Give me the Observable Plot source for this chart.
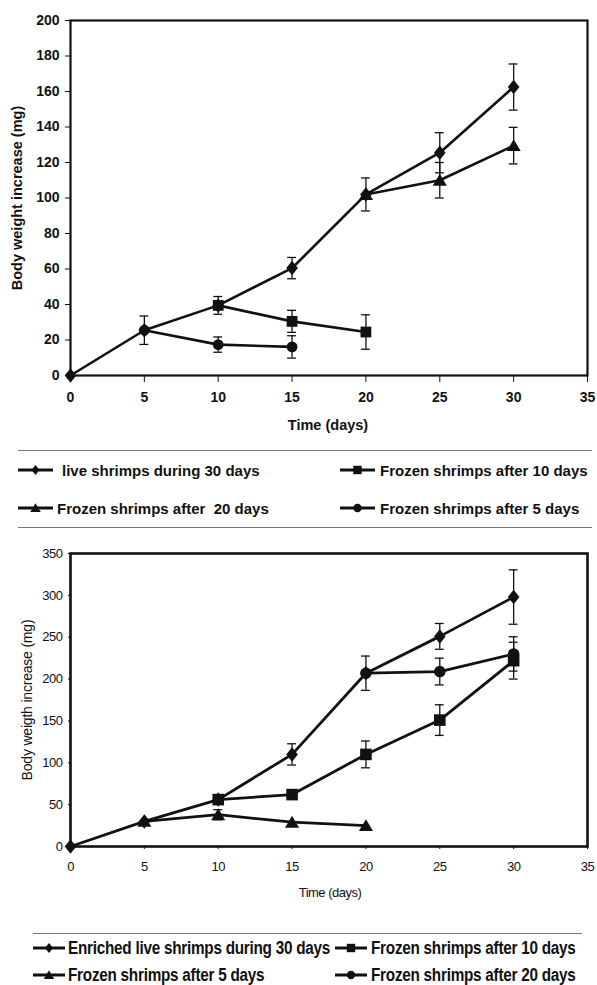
<!DOCTYPE html>
<html>
<head>
<meta charset="utf-8">
<script src="https://cdn.jsdelivr.net/npm/d3@7"></script>
<script src="https://cdn.jsdelivr.net/npm/@observablehq/plot@0.6"></script>
<style>
  html, body { margin: 0; padding: 0; background: #fff; }
  #page { position: relative; width: 597px; height: 985px; overflow: hidden; background: #fff; color: #111; }
  .abs { position: absolute; white-space: pre; }
  .top-font { font-family: "Liberation Sans", Arial, sans-serif; font-weight: bold; }
  .bot-font { font-family: "Liberation Sans", Arial, sans-serif; font-weight: bold; transform-origin: left center; }
  .rule { position: absolute; height: 0; border-top: 1px solid #777; }
  .ylab { transform-origin: center center; transform: translate(-50%, -50%) rotate(-90deg); }
</style>
</head>
<body>
<div id="page"></div>
<script>
// ---------------- Data: top chart ----------------
const topTicksX = [0, 5, 10, 15, 20, 25, 30, 35];
const topTicksY = [0, 20, 40, 60, 80, 100, 120, 140, 160, 180, 200];

const topLiveName = "live shrimps during 30 days";
const topLiveDays = [0, 5, 10, 15, 20, 25, 30];
const topLiveMean = [0, 25.5, 39.5, 60.5, 102, 125.5, 162.5];
const topLiveErr  = [0, 8, 5, 6, 9.3, 11.3, 13];

const topF10Name = "Frozen shrimps after 10 days";
const topF10Days = [10, 15, 20];
const topF10Mean = [39.5, 30.5, 24.5];
const topF10Err  = [0, 6.2, 9.7];

const topF20Name = "Frozen shrimps after  20 days";
const topF20Days = [20, 25, 30];
const topF20Mean = [102, 110, 129.5];
const topF20Err  = [0, 10, 10.3];

const topF5Name = "Frozen shrimps after 5 days";
const topF5Days = [5, 10, 15];
const topF5Mean = [25.5, 17.4, 16.1];
const topF5Err  = [0, 4.3, 6.3];

// ---------------- Data: bottom chart ----------------
const botTicksX = [0, 5, 10, 15, 20, 25, 30, 35];
const botTicksY = [0, 50, 100, 150, 200, 250, 300, 350];

const botLiveName = "Enriched live shrimps during 30 days";
const botLiveDays = [0, 5, 10, 15, 20, 25, 30];
const botLiveMean = [0, 30, 56, 110, 207, 251, 298];
const botLiveErr  = [0, 0, 0, 12.7, 20.5, 15.4, 32.5];

const botF10Name = "Frozen shrimps after 10 days";
const botF10Days = [10, 15, 20, 25, 30];
const botF10Mean = [56, 62, 110, 151, 222];
const botF10Err  = [0, 0, 16, 18.3, 22];

const botF5Name = "Frozen shrimps after 5 days";
const botF5Days = [5, 10, 15, 20];
const botF5Mean = [30, 38, 29, 25];
const botF5Err  = [0, 6, 0, 0];

const botF20Name = "Frozen shrimps after 20 days";
const botF20Days = [20, 25, 30];
const botF20Mean = [207, 209, 230];
const botF20Err  = [0, 16, 20.5];

// ---------------- Symbols ----------------
const symDiamond = { draw(ctx, size) { const r = Math.sqrt(size / Math.PI);
  ctx.moveTo(0, -1.25 * r); ctx.lineTo(r, 0); ctx.lineTo(0, 1.25 * r); ctx.lineTo(-r, 0); ctx.closePath(); } };
const symSquare = { draw(ctx, size) { const r = Math.sqrt(size / Math.PI);
  ctx.moveTo(-r, -r); ctx.lineTo(r, -r); ctx.lineTo(r, r); ctx.lineTo(-r, r); ctx.closePath(); } };
const symTriangle = { draw(ctx, size) { const r = Math.sqrt(size / Math.PI);
  ctx.moveTo(0, -r); ctx.lineTo(1.1 * r, 0.85 * r); ctx.lineTo(-1.1 * r, 0.85 * r); ctx.closePath(); } };
const symCircle = { draw(ctx, size) { const r = Math.sqrt(size / Math.PI);
  ctx.moveTo(r, 0); ctx.arc(0, 0, r, 0, 2 * Math.PI); } };

function rows(name, days, mean, err) {
  return days.map((d, i) => ({ series: name, day: d, mean: mean[i], err: err[i] }));
}

const topSeries = [
  { rows: rows(topLiveName, topLiveDays, topLiveMean, topLiveErr), sym: symDiamond, r: 5.8 },
  { rows: rows(topF10Name, topF10Days, topF10Mean, topF10Err), sym: symSquare, r: 5.4 },
  { rows: rows(topF20Name, topF20Days, topF20Mean, topF20Err), sym: symTriangle, r: 6.4 },
  { rows: rows(topF5Name, topF5Days, topF5Mean, topF5Err), sym: symCircle, r: 5.4 }
];
const botSeries = [
  { rows: rows(botLiveName, botLiveDays, botLiveMean, botLiveErr), sym: symDiamond, r: 5.8 },
  { rows: rows(botF10Name, botF10Days, botF10Mean, botF10Err), sym: symSquare, r: 5.8 },
  { rows: rows(botF5Name, botF5Days, botF5Mean, botF5Err), sym: symTriangle, r: 6.4 },
  { rows: rows(botF20Name, botF20Days, botF20Mean, botF20Err), sym: symCircle, r: 5.8 }
];

function seriesMarks(series, lineWidth) {
  const marks = [];
  for (const s of series) {
    const e = s.rows.filter(d => d.err > 0);
    marks.push(Plot.ruleX(e, { x: "day", y1: d => d.mean - d.err, y2: d => d.mean + d.err, stroke: "#111", strokeWidth: 1.3 }));
    marks.push(Plot.ruleY(e, { y: d => d.mean - d.err, x1: d => d.day - 0.3, x2: d => d.day + 0.3, stroke: "#111", strokeWidth: 1.3 }));
    marks.push(Plot.ruleY(e, { y: d => d.mean + d.err, x1: d => d.day - 0.3, x2: d => d.day + 0.3, stroke: "#111", strokeWidth: 1.3 }));
  }
  for (const s of series) {
    marks.push(Plot.line(s.rows, { x: "day", y: "mean", stroke: "#111", strokeWidth: lineWidth }));
  }
  for (const s of series) {
    marks.push(Plot.dot(s.rows, { x: "day", y: "mean", symbol: s.sym, r: s.r, fill: "#111", stroke: "none" }));
  }
  return marks;
}

const page = document.getElementById("page");

// ---------------- Top chart ----------------
const topPlot = Plot.plot({
  width: 597, height: 440,
  marginLeft: 70, marginRight: 10, marginTop: 20, marginBottom: 65,
  style: { fontFamily: "'Liberation Sans', Arial, sans-serif", fontSize: "14px", fontWeight: "bold", color: "#111", background: "transparent", overflow: "visible" },
  x: { domain: [0, 35], ticks: topTicksX, tickSize: 7, tickPadding: 10, label: null, tickFormat: d3.format("d") },
  y: { domain: [0, 200], ticks: topTicksY, tickSize: 5, tickPadding: 6, label: null, tickFormat: d3.format("d") },
  marks: [
    ...seriesMarks(topSeries, 2.6),
    Plot.frame({ stroke: "#111", strokeWidth: 2.2 })
  ]
});
topPlot.style.position = "absolute";
topPlot.style.left = "0px";
topPlot.style.top = "0px";
page.appendChild(topPlot);

// ---------------- Bottom chart ----------------
const botPlot = Plot.plot({
  width: 597, height: 350,
  marginLeft: 70, marginRight: 10, marginTop: 23, marginBottom: 34,
  style: { fontFamily: "'Liberation Sans', Arial, sans-serif", fontSize: "13px", fontWeight: "normal", color: "#111", background: "transparent", overflow: "visible", letterSpacing: "-0.5px" },
  x: { domain: [0, 35], ticks: botTicksX, tickSize: 3, tickPadding: 12, label: null, tickFormat: d3.format("d") },
  y: { domain: [0, 350], ticks: botTicksY, tickSize: 2, tickPadding: 6, label: null, tickFormat: d3.format("d") },
  marks: [
    ...seriesMarks(botSeries, 2.8),
    Plot.frame({ stroke: "#111", strokeWidth: 2.6 })
  ]
});
botPlot.style.position = "absolute";
botPlot.style.left = "0px";
botPlot.style.top = "530px";
page.appendChild(botPlot);

// ---------------- Titles & legends ----------------
function addText(txt, x, y, cls, css) {
  const el = document.createElement("div");
  el.className = "abs " + cls;
  el.textContent = txt;
  el.style.left = x + "px";
  el.style.top = y + "px";
  Object.assign(el.style, css || {});
  page.appendChild(el);
  return el;
}
function addRule(x1, x2, y) {
  const el = document.createElement("div");
  el.className = "rule";
  el.style.left = x1 + "px"; el.style.width = (x2 - x1) + "px"; el.style.top = y + "px";
  page.appendChild(el);
}
function swatch(sym, r, x, y, w) {
  const svg = d3.create("svg").attr("width", w + 16).attr("height", 24)
    .style("position", "absolute").style("left", (x - 8) + "px").style("top", (y - 12) + "px");
  svg.append("line").attr("x1", 8).attr("x2", 8 + w).attr("y1", 12).attr("y2", 12)
    .attr("stroke", "#111").attr("stroke-width", 3);
  svg.append("path").attr("transform", `translate(${8 + w / 2},12)`)
    .attr("d", d3.symbol(sym, Math.PI * r * r)()).attr("fill", "#111");
  page.appendChild(svg.node());
}

// top titles
addText("Body weight increase (mg)", 17, 198, "top-font ylab", { fontSize: "14.5px" });
addText("Time (days)", 328, 425, "top-font", { fontSize: "14.5px", transform: "translate(-50%, -50%)" });
// bottom titles
addText("Body weigth increase (mg)", 27, 700, "ylab", { fontFamily: "'Liberation Sans', Arial, sans-serif", fontSize: "14px", letterSpacing: "-0.2px" });
addText("Time (days)", 330, 892, "", { fontFamily: "'Liberation Sans', Arial, sans-serif", fontSize: "13px", letterSpacing: "-0.5px", transform: "translate(-50%, -50%)" });

// top legend
const topLegCss = { fontSize: "15px", transform: "translateY(-50%)" };
addRule(18, 592, 450);
addRule(18, 592, 527);
swatch(symDiamond, 4, 18, 470, 35);
addText(topLiveName, 62, 470, "top-font", topLegCss);
swatch(symSquare, 4.2, 340, 470, 35);
addText(topF10Name, 380, 470, "top-font", topLegCss);
swatch(symTriangle, 4.8, 18, 508, 35);
addText(topF20Name, 57, 508, "top-font", topLegCss);
swatch(symCircle, 4.2, 340, 508, 35);
addText(topF5Name, 380, 508, "top-font", topLegCss);

// bottom legend
const botLegCss = { fontSize: "18px", letterSpacing: "-0.3px", transform: "translateY(-50%) scaleX(0.85)" };
addRule(33, 582, 933);
swatch(symDiamond, 4, 33, 948, 32);
addText(botLiveName, 68, 948, "bot-font", botLegCss);
swatch(symSquare, 4.2, 335, 948, 32);
addText(botF10Name, 371, 948, "bot-font", botLegCss);
swatch(symTriangle, 4.8, 33, 975, 32);
addText(botF5Name, 68, 975, "bot-font", botLegCss);
swatch(symCircle, 4.2, 335, 975, 32);
addText(botF20Name, 371, 975, "bot-font", botLegCss);
</script>
</body>
</html>
